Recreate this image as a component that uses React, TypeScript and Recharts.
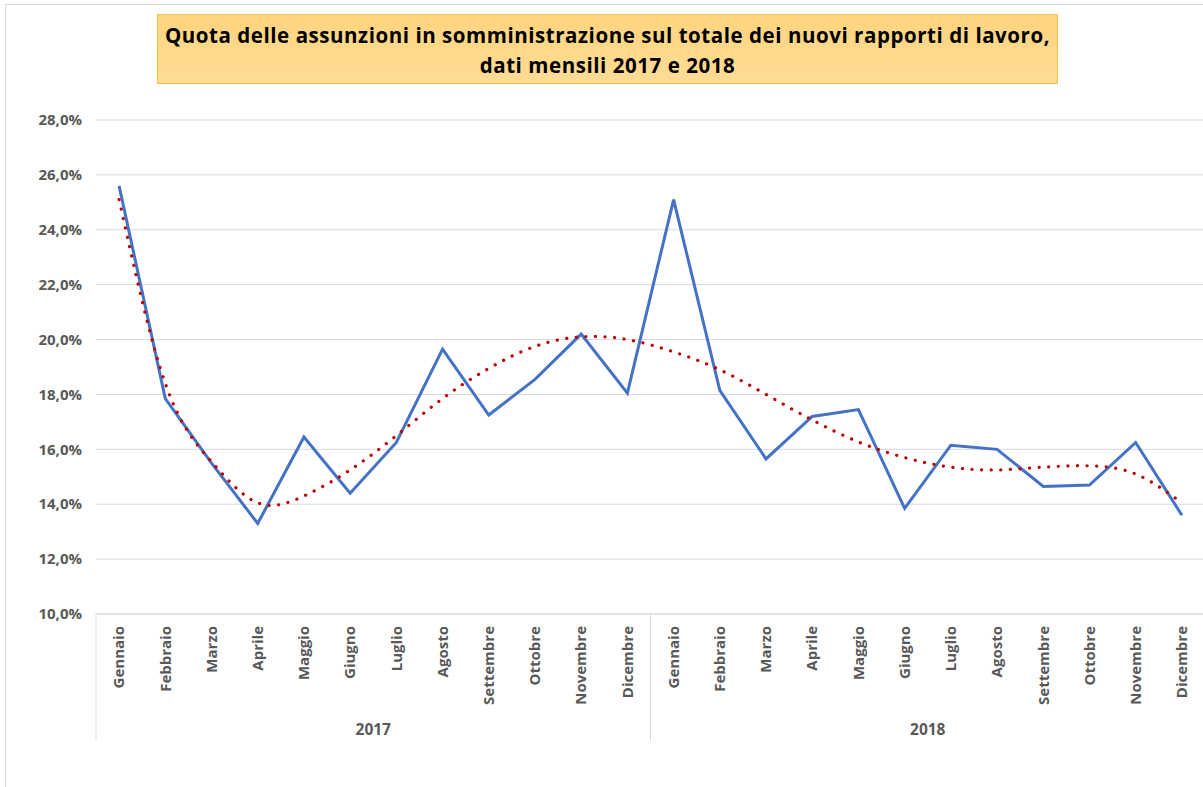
import React from 'react';
import { LineChart, Line, XAxis, YAxis, CartesianGrid } from 'recharts';

const months = ['Gennaio', 'Febbraio', 'Marzo', 'Aprile', 'Maggio', 'Giugno', 'Luglio', 'Agosto', 'Settembre', 'Ottobre', 'Novembre', 'Dicembre'];
const years = ['2017', '2018'];
const share2017 = [25.6, 17.85, 15.5, 13.3, 16.45, 14.4, 16.25, 19.65, 17.25, 18.55, 20.2, 18.05];
const share2018 = [25.1, 18.15, 15.65, 17.2, 17.45, 13.85, 16.15, 16.0, 14.65, 14.7, 16.25, 13.6];
const trend2017 = [25.1, 18.4, 15.55, 14.05, 14.3, 15.25, 16.5, 17.85, 18.95, 19.75, 20.1, 20.0];
const trend2018 = [19.55, 18.9, 18.0, 17.07, 16.27, 15.7, 15.35, 15.25, 15.35, 15.4, 15.1, 14.05];
const yTicks = [10, 12, 14, 16, 18, 20, 22, 24, 26, 28];

const data = years.flatMap((year, yi) =>
  months.map((month, mi) => ({
    key: `${month} ${year}`,
    month,
    year,
    monthIndex: mi,
    share: (yi === 0 ? share2017 : share2018)[mi],
    trend: (yi === 0 ? trend2017 : trend2018)[mi],
  }))
);

const FONT = '"Open Sans", "Noto Sans", sans-serif';
const GRAY = '#595959';
const CHART_W = 1215;
const MARGIN_R = 10;
const YAXIS_W = 96;
const HALF_BAND = (CHART_W - MARGIN_R - YAXIS_W) / data.length / 2;

const MonthTick = (props: any) => {
  const { x, y, payload, index } = props;
  const row = data[index] ?? data.find((d) => d.key === payload.value);
  const half = HALF_BAND;
  const ay = 12 + y;
  return (
    <g>
      <text
        x={x}
        y={ay}
        transform={`rotate(-90, ${x}, ${ay})`}
        textAnchor="end"
        dy="0.35em"
        fill={GRAY}
        fontFamily={FONT}
        fontWeight={700}
        fontSize={15}
      >
        {row ? row.month : ''}
      </text>
      {row && row.monthIndex === 0 && (
        <line x1={x - half} x2={x - half} y1={y} y2={y + 127} stroke="#D9D9D9" strokeWidth={1} />
      )}
      {row && row.monthIndex === 11 && (
        <line x1={x + half} x2={x + half} y1={y} y2={y + 127} stroke="#D9D9D9" strokeWidth={1} />
      )}
      {row && row.monthIndex === 5 && (
        <text
          x={x + half}
          y={y + 116}
          textAnchor="middle"
          dy="0.35em"
          fill={GRAY}
          fontFamily={FONT}
          fontWeight={700}
          fontSize={15.5}
        >
          {row.year}
        </text>
      )}
    </g>
  );
};

const PctTick = (props: any) => {
  const { x, y, payload } = props;
  return (
    <text x={x} y={y} textAnchor="end" dy="0.35em" fill={GRAY} fontFamily={FONT} fontWeight={700} fontSize={15}>
      {Number(payload.value).toFixed(1).replace('.', ',') + '%'}
    </text>
  );
};

export default function App() {
  return (
    <div style={{ position: 'absolute', left: 0, top: 0, width: 1203, height: 787, overflow: 'hidden', background: '#fff' }}>
      <div
        style={{
          position: 'absolute',
          left: 5,
          top: 4,
          width: 1400,
          height: 1000,
          border: '1px solid #D9D9D9',
          boxSizing: 'border-box',
        }}
      />
      <div style={{ position: 'absolute', left: 0, top: 0 }}>
        <LineChart width={CHART_W} height={787} data={data} margin={{ top: 120, right: MARGIN_R, bottom: 0, left: 0 }}>
          <CartesianGrid horizontal vertical={false} stroke="#D9D9D9" strokeWidth={1} />
          <XAxis
            dataKey="key"
            scale="band"
            interval={0}
            height={173}
            tickSize={0}
            tickMargin={0}
            tickLine={false}
            axisLine={{ stroke: '#D9D9D9' }}
            tick={<MonthTick />}
          />
          <YAxis
            domain={[10, 28]}
            ticks={yTicks}
            width={YAXIS_W}
            tickSize={0}
            tickMargin={14}
            tickLine={false}
            axisLine={false}
            tick={<PctTick />}
          />
          <Line
            type="linear"
            dataKey="share"
            stroke="#4472C4"
            strokeWidth={3}
            dot={false}
            activeDot={false}
            isAnimationActive={false}
          />
          <Line
            type="natural"
            dataKey="trend"
            stroke="#C00000"
            strokeWidth={3.2}
            strokeDasharray="0.1 9.5"
            strokeLinecap="round"
            dot={false}
            activeDot={false}
            isAnimationActive={false}
          />
        </LineChart>
      </div>
      <div
        style={{
          position: 'absolute',
          left: 157,
          top: 14,
          width: 901,
          height: 70,
          boxSizing: 'border-box',
          background: 'linear-gradient(to bottom, #FFD47E, #FFDC95)',
          border: '1.5px solid #F2C14E',
          fontFamily: FONT,
          fontWeight: 700,
          fontSize: 20.5,
          letterSpacing: 0.55,
          lineHeight: '30px',
          color: '#000',
          textAlign: 'center',
          paddingTop: 5,
          whiteSpace: 'nowrap',
        }}
      >
        <div>Quota delle assunzioni in somministrazione sul totale dei nuovi rapporti di lavoro,</div>
        <div>dati mensili 2017 e 2018</div>
      </div>
    </div>
  );
}
